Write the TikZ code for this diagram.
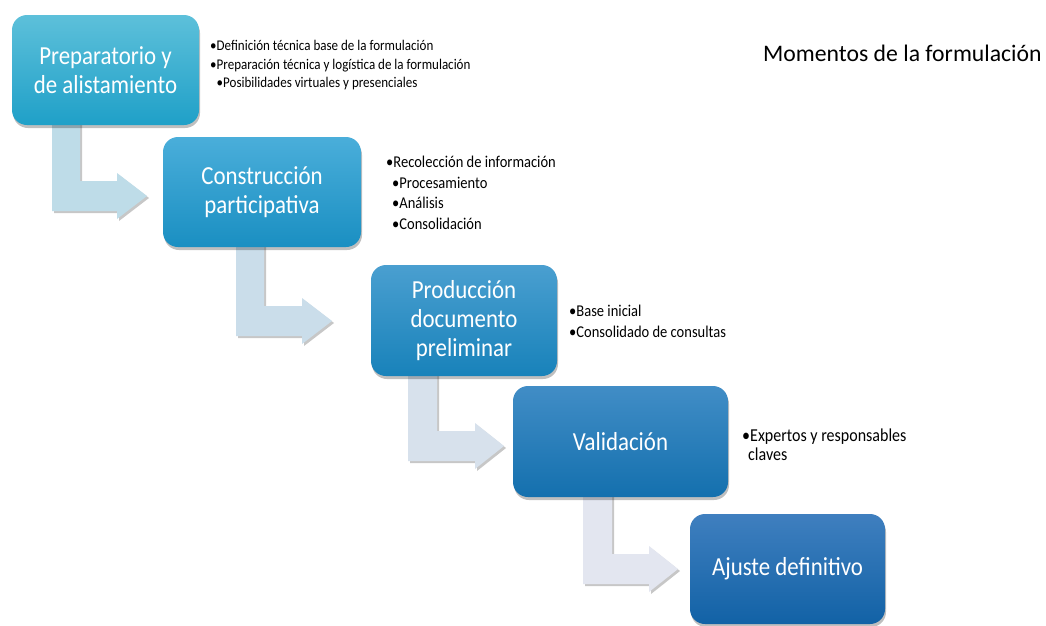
\documentclass[tikz,border=0pt]{standalone}
\usepackage{fontspec}
\setmainfont{Carlito}
\newfontfamily\condfont{Carlito}[FakeStretch=0.88]
\usetikzlibrary{shadows}
\pgfdeclarelayer{bg}
\pgfsetlayers{bg,main}
\definecolor{boxAt}{HTML}{5DC0DA}\definecolor{boxAb}{HTML}{1FA0C8}
\definecolor{boxBt}{HTML}{4AAEDA}\definecolor{boxBb}{HTML}{1A8FC2}
\definecolor{boxCt}{HTML}{4A9FD0}\definecolor{boxCb}{HTML}{1882BA}
\definecolor{boxDt}{HTML}{418DC6}\definecolor{boxDb}{HTML}{1470AE}
\definecolor{boxEt}{HTML}{3F7FBF}\definecolor{boxEb}{HTML}{1262A6}
\definecolor{arrA}{HTML}{BEDCE8}
\definecolor{arrB}{HTML}{CADDEA}
\definecolor{arrC}{HTML}{D7E1EC}
\definecolor{arrD}{HTML}{E3E6F0}
\newcommand\bentarrow[7]{%
  % #1 shaft left, #2 shaft right, #3 top y, #4 centre y, #5 head base x, #6 tip x, #7 colour
  \path[arrowshape, fill=#7]
    (#1,#3) -- (#2,#3) -- (#2,#4-15) -- (#5,#4-15) -- (#5,#4-23) -- (#6,#4)
    -- (#5,#4+23) -- (#5,#4+15) -- (#1,#4+15) -- cycle;}
\begin{document}
\begin{tikzpicture}[x=1pt,y=-1pt,
  stepbox/.style={rectangle, rounded corners=15pt, text=white, align=center,
    inner sep=0pt, font=\condfont\fontsize{26}{29}\selectfont,
    drop shadow={shadow xshift=1pt, shadow yshift=-3pt, opacity=0.25, fill=black}},
  arrowshape/.style={drop shadow={shadow xshift=2pt, shadow yshift=-2pt, opacity=0.22, fill=black}},
  bulA/.style={anchor=base west, inner sep=0pt, font=\condfont\fontsize{14.8}{18}\selectfont},
  bulB/.style={anchor=base west, inner sep=0pt, font=\condfont\fontsize{16.5}{20}\selectfont},
  bulC/.style={anchor=base west, inner sep=0pt, font=\condfont\fontsize{18.2}{20}\selectfont},
  titlestyle/.style={anchor=base west, inner sep=0pt, font=\fontsize{23.7}{28}\selectfont}]
\useasboundingbox (0,0) rectangle (1046,625);

% boxes
\node[stepbox, minimum width=187pt, minimum height=110pt, top color=boxAt, bottom color=boxAb]
  (b1) at (105.5,70) {Preparatorio y\\de alistamiento};
\node[stepbox, minimum width=198pt, minimum height=110pt, top color=boxBt, bottom color=boxBb]
  (b2) at (262,192) {Construcción\\participativa};
\node[stepbox, minimum width=186pt, minimum height=111pt, top color=boxCt, bottom color=boxCb]
  (b3) at (464,320.5) {Producción\\documento\\preliminar};
\node[stepbox, minimum width=215pt, minimum height=111pt, top color=boxDt, bottom color=boxDb]
  (b4) at (620.5,441.5) {Validación};
\node[stepbox, minimum width=195pt, minimum height=110pt, top color=boxEt, bottom color=boxEb]
  (b5) at (787.5,569) {Ajuste definitivo};

% white page and bent arrows behind the boxes
\begin{pgfonlayer}{bg}
\fill[white] (0,0) rectangle (1046,625);
\bentarrow{52}{80}{118}{196}{117}{147}{arrA}
\bentarrow{236}{264}{240}{321}{302}{332}{arrB}
\bentarrow{408}{437}{369}{446}{475}{504}{arrC}
\bentarrow{583}{612}{490}{569}{649}{678}{arrD}
\end{pgfonlayer}

% bullet texts
\node[bulA] (t11) at (210,50.5) {•Definición técnica base de la formulación};
\node[bulA] (t12) at (210,69) {•Preparación técnica y logística de la formulación};
\node[bulA] (t13) at (216.5,87.5) {•Posibilidades virtuales y presenciales};

\node[bulB] (t21) at (386,167) {•Recolección de información};
\node[bulB] (t22) at (392,188) {•Procesamiento};
\node[bulB] (t23) at (392,208.5) {•Análisis};
\node[bulB] (t24) at (392,229) {•Consolidación};

\node[bulB] (t31) at (569,316) {•Base inicial};
\node[bulB] (t32) at (569,337) {•Consolidado de consultas};

\node[bulC] (t41) at (742,441) {•Expertos y responsables};
\node[bulC] (t42) at (748,460) {claves};

\node[titlestyle] (title) at (763,61) {Momentos de la formulación};
\end{tikzpicture}
\end{document}
